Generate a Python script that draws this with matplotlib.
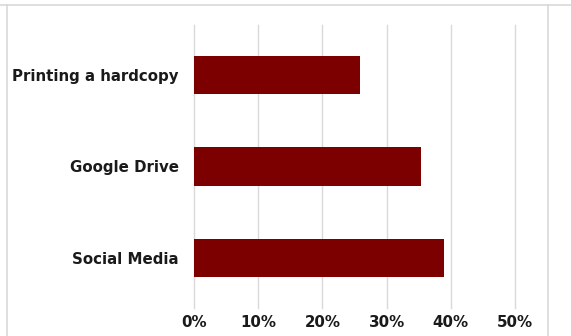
import matplotlib.pyplot as plt
from matplotlib.lines import Line2D
from matplotlib.ticker import PercentFormatter

# data (bottom to top)
categories = ["Social Media", "Google Drive", "Printing a hardcopy"]
shares = [0.39, 0.354, 0.259]
xticks = [0, 0.1, 0.2, 0.3, 0.4, 0.5]

fig = plt.figure(figsize=(5.71, 3.36), dpi=100)
ax = fig.add_axes([194 / 571, 1 - 308 / 336, 321 / 571, 283 / 336])

ax.barh(range(len(categories)), shares, height=0.42, color="#7D0000", zorder=3)

ax.set_xlim(0, 0.5)
ax.set_ylim(-0.55, 2.55)
ax.set_xticks(xticks)
ax.xaxis.set_major_formatter(PercentFormatter(1.0, decimals=0))
ax.set_yticks(range(len(categories)))
ax.set_yticklabels(categories)
ax.grid(axis="x", color="#D9D9D9", linewidth=1, zorder=0)
for gl in ax.get_xgridlines():
    gl.set_clip_on(False)
for s in ax.spines.values():
    s.set_visible(False)
ax.tick_params(length=0, labelsize=10.8, labelcolor="#1a1a1a")
ax.tick_params(axis="x", pad=5)
ax.tick_params(axis="y", pad=11)
for lab in ax.get_xticklabels() + ax.get_yticklabels():
    lab.set_fontweight("bold")

# light frame around the chart area
fig.add_artist(Line2D([0, 1], [1 - 5 / 336] * 2, color="#D9D9D9", lw=1.2))
fig.add_artist(Line2D([7 / 571] * 2, [0, 1 - 5 / 336], color="#D9D9D9", lw=1.2))
fig.add_artist(Line2D([548 / 571] * 2, [0, 1 - 5 / 336], color="#D9D9D9", lw=1.2))

fig.savefig("out.png", dpi=100)
